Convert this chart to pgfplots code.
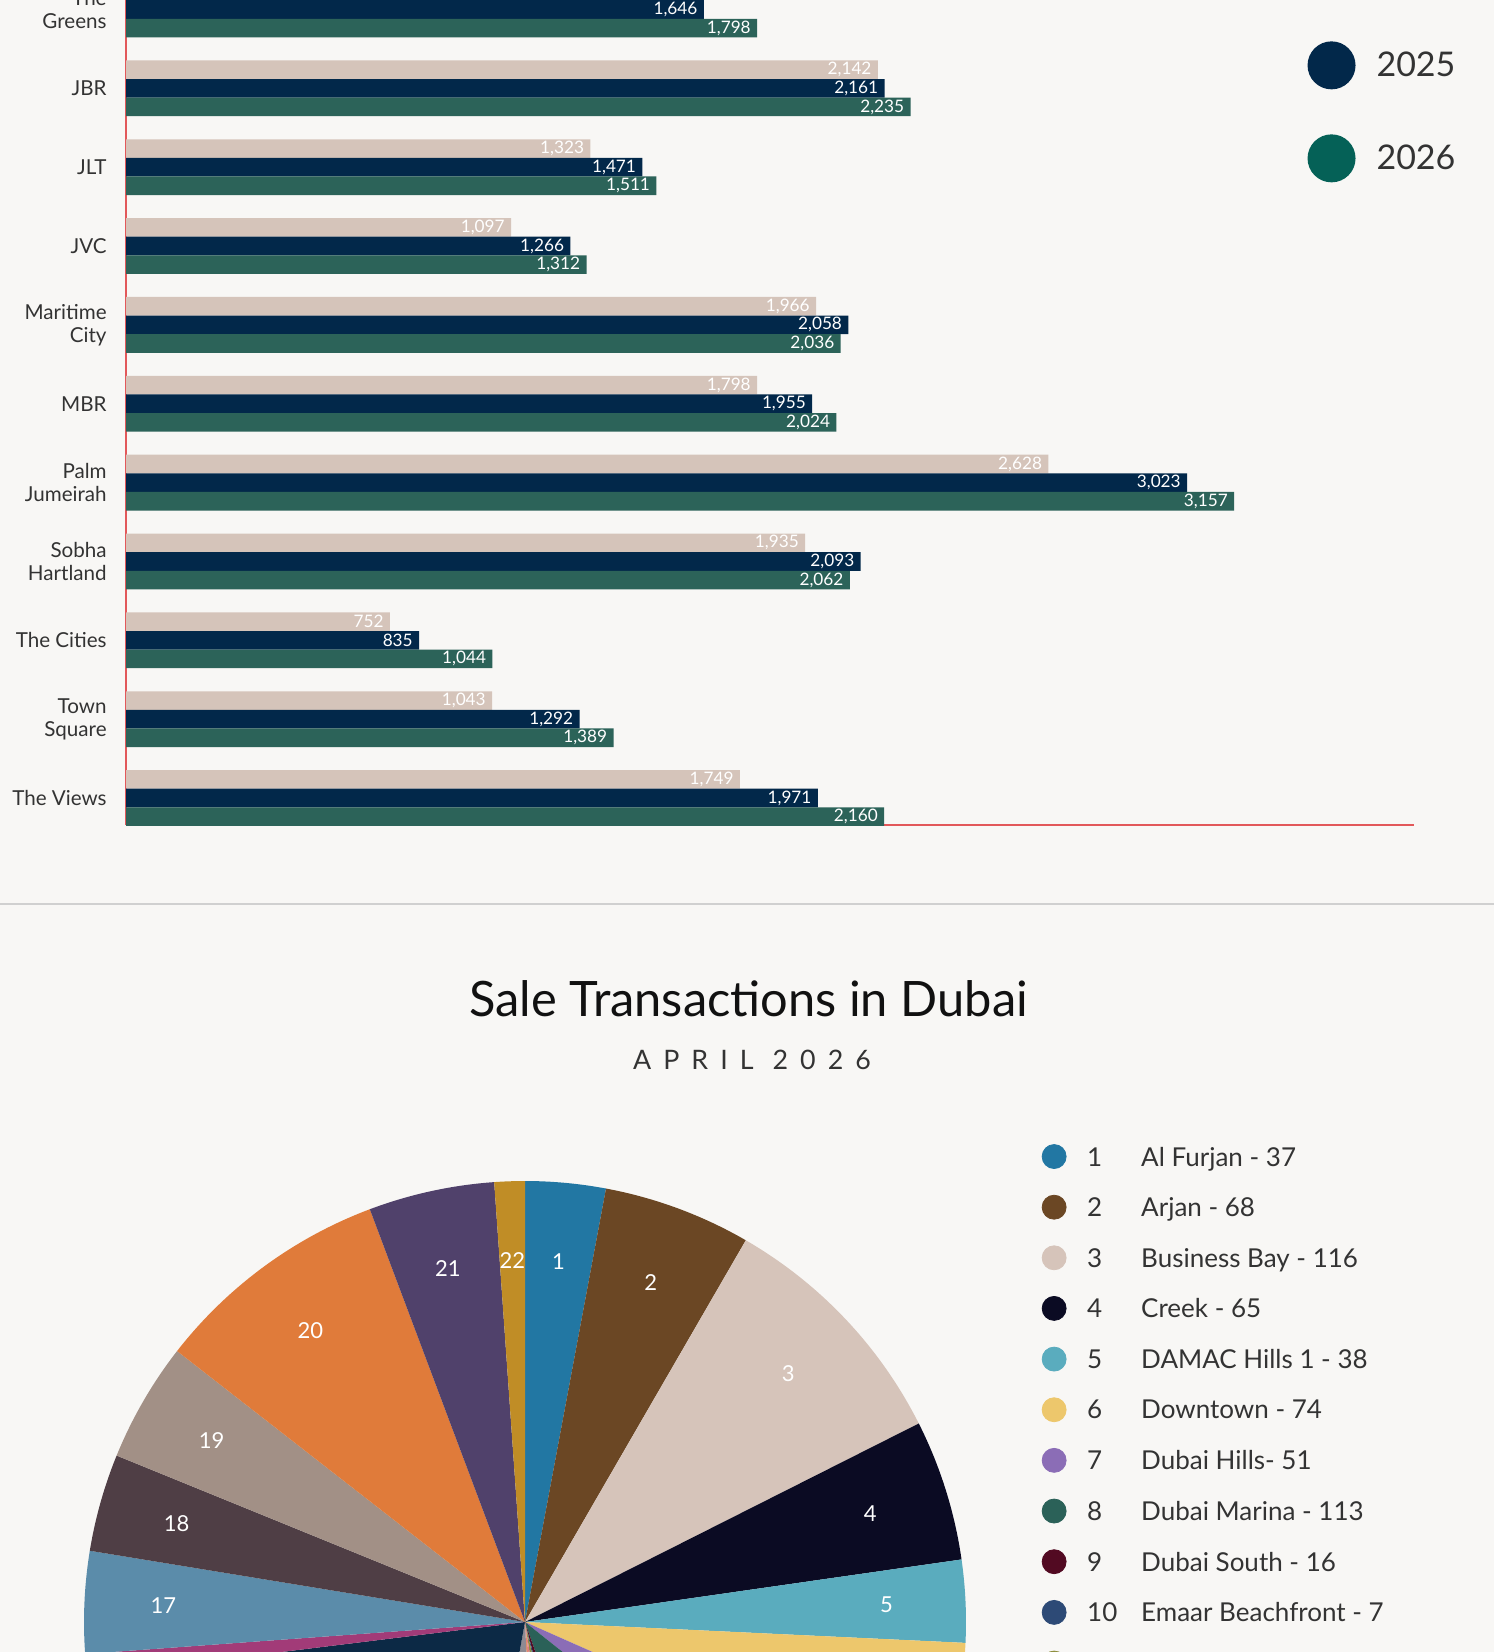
\documentclass[border=0pt]{standalone}
\usepackage{fontspec}
\setmainfont{Lato}
\usepackage{pgfplots}
\usepackage{pgfplotstable}
\pgfplotsset{compat=1.18}
\pgfplotsset{/pgf/number format/1000 sep={,}, /pgf/number format/assume math mode=true}

\definecolor{bg}{HTML}{F8F7F5}
\definecolor{yr24}{HTML}{D5C4BA}
\definecolor{yr25}{HTML}{02284A}
\definecolor{yr26}{HTML}{2C6359}
\definecolor{leg26}{HTML}{056157}
\definecolor{axred}{HTML}{E2585A}
\definecolor{txt}{HTML}{333333}
\definecolor{ttl}{HTML}{111111}
\definecolor{sepline}{HTML}{D0D0D0}

\definecolor{pie1}{HTML}{2277A3}
\definecolor{pie2}{HTML}{6B4724}
\definecolor{pie3}{HTML}{D6C4BA}
\definecolor{pie4}{HTML}{0B0B23}
\definecolor{pie5}{HTML}{5AACBE}
\definecolor{pie6}{HTML}{EDC76C}
\definecolor{pie7}{HTML}{8B6DB6}
\definecolor{pie8}{HTML}{2B6158}
\definecolor{pie9}{HTML}{520A22}
\definecolor{pie10}{HTML}{2D4A76}
\definecolor{pie11}{HTML}{8E8F3F}
\definecolor{pie12}{HTML}{D9738E}
\definecolor{pie13}{HTML}{E38B6B}
\definecolor{pie14}{HTML}{8E8A92}
\definecolor{pie15}{HTML}{0C2945}
\definecolor{pie16}{HTML}{A23B78}
\definecolor{pie17}{HTML}{5B8CAA}
\definecolor{pie18}{HTML}{4F3E45}
\definecolor{pie19}{HTML}{A29086}
\definecolor{pie20}{HTML}{E07B3A}
\definecolor{pie21}{HTML}{50416B}
\definecolor{pie22}{HTML}{C08D26}

% sale transactions per area, slices 1..22 clockwise from the top
\pgfplotstableread{
n
37
68
116
65
38
74
51
113
16
7
14
8
13
45
254
10
47
45
55
110
58
14
}\pietable

\newcommand\pielab{\fontsize{11}{13}\selectfont}
\newcommand\legdot[1]{\addlegendimage{legend image code/.code={\fill[#1] (6pt,0.7pt) circle[radius=6pt];}}}
\newcommand\lstrut{\rule[-3pt]{0pt}{11pt}}

\begin{document}%
\begin{tikzpicture}
\pgfmathsetmacro{\pietotal}{0}
\pgfplotsforeachungrouped \i in {0,...,21}{%
  \pgfplotstablegetelem{\i}{n}\of\pietable
  \pgfmathsetmacro{\pietotal}{\pietotal+\pgfplotsretval}}
\path[use as bounding box] (0pt,0pt) rectangle (747pt,-826pt);
\clip (0pt,0pt) rectangle (747pt,-826pt);
\fill[bg] (0pt,0pt) rectangle (747pt,-826pt);
\draw[sepline, line width=1pt] (0pt,-452pt) -- (747pt,-452pt);

% ---- price bars ----
\begin{axis}[
  at={(63pt,-412.5pt)}, anchor=south west,
  xbar,
  x=0.1755pt, y=39.425pt,
  xmin=0, xmax=3670, ymin=-0.3424, ymax=10.6,
  bar width=9.3pt,
  axis lines*=left,
  axis line style={draw=axred, line width=1pt},
  xtick=\empty,
  ytick={0,...,10},
  yticklabels={The Views,{Town\\Square},The Cities,{Sobha\\Hartland},{Palm\\Jumeirah},MBR,{Maritime\\City},JVC,JLT,JBR,{The\\Greens}},
  major tick length=0pt,
  yticklabel style={align=right, anchor=east, inner sep=0pt, xshift=-9.5pt, text=txt, font=\fontsize{10.3}{11.5}\selectfont},
  point meta=x,
  nodes near coords={\pgfmathprintnumber{\pgfplotspointmeta}},
  every node near coord/.append style={anchor=east, inner sep=0pt, xshift=-3pt, text=white, font=\fontsize{8.6}{10}\selectfont},
  legend style={at={(0.9169,0.9087)}, anchor=north west, draw=none, fill=none,
    font=\fontsize{17}{20}\selectfont, text=txt, row sep=22.5pt, column sep=10.5pt,
    inner sep=0pt, nodes={inner sep=0pt}},
  legend cell align=left,
]
\addplot[fill=yr24, draw=none, bar shift=9.3pt, forget plot]
  coordinates {(1749,0) (1043,1) (752,2) (1935,3) (2628,4) (1798,5) (1966,6) (1097,7) (1323,8) (2142,9)};
\addplot[fill=yr25, draw=none, bar shift=0pt,
  legend image code/.code={\fill[yr25] (12pt,0pt) circle[radius=12pt];}]
  coordinates {(1971,0) (1292,1) (835,2) (2093,3) (3023,4) (1955,5) (2058,6) (1266,7) (1471,8) (2161,9) (1646,10)};
\addplot[fill=yr26, draw=none, bar shift=-9.3pt,
  legend image code/.code={\fill[leg26] (12pt,0pt) circle[radius=12pt];}]
  coordinates {(2160,0) (1389,1) (1044,2) (2062,3) (3157,4) (2024,5) (2036,6) (1312,7) (1511,8) (2235,9) (1798,10)};
\legend{2025,2026}
\end{axis}

\node[anchor=base, font=\fontsize{24.4}{28}\selectfont, text=ttl] at (374.3pt,-508.4pt) {Sale Transactions in Dubai};
\node[anchor=base, font=\fontsize{13.4}{16}\selectfont\addfontfeature{LetterSpace=45}, text=txt] at (376pt,-534.65pt) {APRIL 2026};

% ---- pie ----
\begin{axis}[
  at={(0pt,-826pt)}, anchor=south west,
  x=0.5pt, y=0.5pt,
  xmin=-525, xmax=969, ymin=-30, ymax=522,
  hide axis, clip=false,
  legend style={at={(0.697,0.9208)}, anchor=north west, draw=none, fill=none,
    font=\fontsize{13}{15}\selectfont, text=txt, row sep=12.9pt, column sep=10.35pt,
    inner sep=0pt, nodes={inner sep=0pt}},
  legend cell align=left,
]
\def\cum{0}
\pgfplotsforeachungrouped \i in {0,...,21}{%
  \pgfplotstablegetelem{\i}{n}\of\pietable
  \let\val\pgfplotsretval
  \pgfmathsetmacro{\a}{90-\cum/\pietotal*360}
  \pgfmathsetmacro{\cumnew}{\cum+\val}
  \pgfmathsetmacro{\b}{90-\cumnew/\pietotal*360}
  \pgfmathsetmacro{\m}{(\a+\b)/2}
  \pgfmathtruncatemacro{\k}{\i+1}
  \pgfmathtruncatemacro{\showlab}{sin(\m)>0 ? 1 : 0}
  \edef\temp{%
    \noexpand\fill[pie\k] (axis cs:0,0) -- (axis cs:{441*cos(\a)},{441*sin(\a)})
      arc[start angle=\a, end angle=\b, radius=220.5pt] -- cycle;}
  \temp
  \ifnum\showlab=1
    \edef\temp{\noexpand\node[text=white, font=\noexpand\pielab] at (axis cs:{362*cos(\m)},{362*sin(\m)}) {\k};}
    \temp
  \fi
  \let\cum\cumnew
}
\legdot{pie1}\addlegendentry{\lstrut\makebox[27pt][l]{1}Al Furjan - 37}
\legdot{pie2}\addlegendentry{\lstrut\makebox[27pt][l]{2}Arjan - 68}
\legdot{pie3}\addlegendentry{\lstrut\makebox[27pt][l]{3}Business Bay - 116}
\legdot{pie4}\addlegendentry{\lstrut\makebox[27pt][l]{4}Creek - 65}
\legdot{pie5}\addlegendentry{\lstrut\makebox[27pt][l]{5}DAMAC Hills 1 - 38}
\legdot{pie6}\addlegendentry{\lstrut\makebox[27pt][l]{6}Downtown - 74}
\legdot{pie7}\addlegendentry{\lstrut\makebox[27pt][l]{7}Dubai Hills- 51}
\legdot{pie8}\addlegendentry{\lstrut\makebox[27pt][l]{8}Dubai Marina - 113}
\legdot{pie9}\addlegendentry{\lstrut\makebox[27pt][l]{9}Dubai South - 16}
\legdot{pie10}\addlegendentry{\lstrut\makebox[27pt][l]{10}Emaar Beachfront - 7}
\legdot{pie11}\addlegendentry{\lstrut}
\end{axis}
\end{tikzpicture}%
\end{document}
